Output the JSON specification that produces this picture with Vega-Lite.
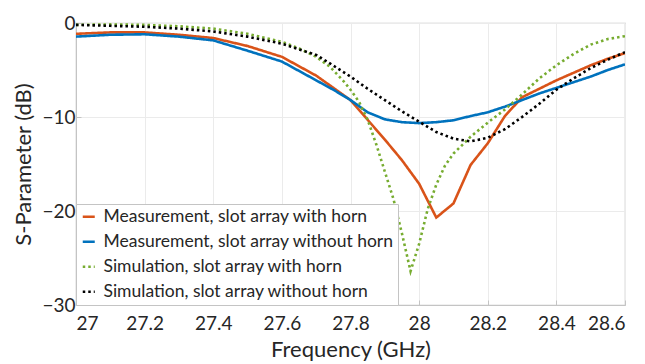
{
  "$schema": "https://vega.github.io/schema/vega-lite/v6.json",
  "width": 549,
  "height": 282,
  "autosize": {"type": "none"},
  "padding": {"left": 76, "top": 23, "right": 20, "bottom": 59},
  "background": "white",
  "config": {
    "font": "Lato",
    "view": {"stroke": "#c4c4c4", "strokeWidth": 1.2},
    "axis": {
      "labelFont": "Lato", "titleFont": "Lato", "labelFontSize": 19, "titleFontSize": 22,
      "titleFontWeight": "normal", "labelColor": "#262626", "titleColor": "#262626",
      "gridColor": "#ebebeb", "domainColor": "#c4c4c4", "tickColor": "#c4c4c4",
      "tickSize": -5, "labelPadding": 10
    },
    "legend": {
      "labelFont": "Lato", "labelFontSize": 17.5, "labelColor": "#262626", "labelLimit": 500
    }
  },
  "data": {"values": [
    {"s":"Measurement, slot array with horn","f":27.0,"v":-1.15},
    {"s":"Measurement, slot array with horn","f":27.1,"v":-1.0},
    {"s":"Measurement, slot array with horn","f":27.2,"v":-1.0},
    {"s":"Measurement, slot array with horn","f":27.3,"v":-1.25},
    {"s":"Measurement, slot array with horn","f":27.4,"v":-1.6},
    {"s":"Measurement, slot array with horn","f":27.5,"v":-2.45},
    {"s":"Measurement, slot array with horn","f":27.6,"v":-3.6},
    {"s":"Measurement, slot array with horn","f":27.7,"v":-5.6},
    {"s":"Measurement, slot array with horn","f":27.75,"v":-6.9},
    {"s":"Measurement, slot array with horn","f":27.8,"v":-8.2},
    {"s":"Measurement, slot array with horn","f":27.85,"v":-10.3},
    {"s":"Measurement, slot array with horn","f":27.9,"v":-12.4},
    {"s":"Measurement, slot array with horn","f":27.95,"v":-14.6},
    {"s":"Measurement, slot array with horn","f":28.0,"v":-17.1},
    {"s":"Measurement, slot array with horn","f":28.05,"v":-20.7},
    {"s":"Measurement, slot array with horn","f":28.1,"v":-19.2},
    {"s":"Measurement, slot array with horn","f":28.15,"v":-15.1},
    {"s":"Measurement, slot array with horn","f":28.2,"v":-12.8},
    {"s":"Measurement, slot array with horn","f":28.25,"v":-9.9},
    {"s":"Measurement, slot array with horn","f":28.3,"v":-7.9},
    {"s":"Measurement, slot array with horn","f":28.35,"v":-7.0},
    {"s":"Measurement, slot array with horn","f":28.4,"v":-6.1},
    {"s":"Measurement, slot array with horn","f":28.45,"v":-5.3},
    {"s":"Measurement, slot array with horn","f":28.5,"v":-4.5},
    {"s":"Measurement, slot array with horn","f":28.55,"v":-3.8},
    {"s":"Measurement, slot array with horn","f":28.6,"v":-3.2},

    {"s":"Measurement, slot array without horn","f":27.0,"v":-1.45},
    {"s":"Measurement, slot array without horn","f":27.1,"v":-1.25},
    {"s":"Measurement, slot array without horn","f":27.2,"v":-1.2},
    {"s":"Measurement, slot array without horn","f":27.3,"v":-1.45},
    {"s":"Measurement, slot array without horn","f":27.4,"v":-1.85},
    {"s":"Measurement, slot array without horn","f":27.5,"v":-2.95},
    {"s":"Measurement, slot array without horn","f":27.6,"v":-4.1},
    {"s":"Measurement, slot array without horn","f":27.7,"v":-6.1},
    {"s":"Measurement, slot array without horn","f":27.75,"v":-7.1},
    {"s":"Measurement, slot array without horn","f":27.8,"v":-8.2},
    {"s":"Measurement, slot array without horn","f":27.85,"v":-9.5},
    {"s":"Measurement, slot array without horn","f":27.9,"v":-10.25},
    {"s":"Measurement, slot array without horn","f":27.95,"v":-10.55},
    {"s":"Measurement, slot array without horn","f":28.0,"v":-10.65},
    {"s":"Measurement, slot array without horn","f":28.05,"v":-10.55},
    {"s":"Measurement, slot array without horn","f":28.1,"v":-10.35},
    {"s":"Measurement, slot array without horn","f":28.15,"v":-9.9},
    {"s":"Measurement, slot array without horn","f":28.2,"v":-9.5},
    {"s":"Measurement, slot array without horn","f":28.25,"v":-8.9},
    {"s":"Measurement, slot array without horn","f":28.3,"v":-8.2},
    {"s":"Measurement, slot array without horn","f":28.35,"v":-7.5},
    {"s":"Measurement, slot array without horn","f":28.4,"v":-6.9},
    {"s":"Measurement, slot array without horn","f":28.45,"v":-6.3},
    {"s":"Measurement, slot array without horn","f":28.5,"v":-5.7},
    {"s":"Measurement, slot array without horn","f":28.55,"v":-5.0},
    {"s":"Measurement, slot array without horn","f":28.6,"v":-4.4},

    {"s":"Simulation, slot array with horn","f":27.0,"v":-0.2},
    {"s":"Simulation, slot array with horn","f":27.1,"v":-0.15},
    {"s":"Simulation, slot array with horn","f":27.2,"v":-0.2},
    {"s":"Simulation, slot array with horn","f":27.3,"v":-0.35},
    {"s":"Simulation, slot array with horn","f":27.4,"v":-0.6},
    {"s":"Simulation, slot array with horn","f":27.5,"v":-1.15},
    {"s":"Simulation, slot array with horn","f":27.6,"v":-2.0},
    {"s":"Simulation, slot array with horn","f":27.65,"v":-2.7},
    {"s":"Simulation, slot array with horn","f":27.7,"v":-3.6},
    {"s":"Simulation, slot array with horn","f":27.74,"v":-4.65},
    {"s":"Simulation, slot array with horn","f":27.78,"v":-6.2},
    {"s":"Simulation, slot array with horn","f":27.8,"v":-7.1},
    {"s":"Simulation, slot array with horn","f":27.825,"v":-8.4},
    {"s":"Simulation, slot array with horn","f":27.85,"v":-10.3},
    {"s":"Simulation, slot array with horn","f":27.875,"v":-12.9},
    {"s":"Simulation, slot array with horn","f":27.9,"v":-15.8},
    {"s":"Simulation, slot array with horn","f":27.925,"v":-18.7},
    {"s":"Simulation, slot array with horn","f":27.95,"v":-22.4},
    {"s":"Simulation, slot array with horn","f":27.975,"v":-26.4},
    {"s":"Simulation, slot array with horn","f":28.0,"v":-23.5},
    {"s":"Simulation, slot array with horn","f":28.025,"v":-19.8},
    {"s":"Simulation, slot array with horn","f":28.05,"v":-17.2},
    {"s":"Simulation, slot array with horn","f":28.075,"v":-15.2},
    {"s":"Simulation, slot array with horn","f":28.1,"v":-13.9},
    {"s":"Simulation, slot array with horn","f":28.15,"v":-12.1},
    {"s":"Simulation, slot array with horn","f":28.2,"v":-10.6},
    {"s":"Simulation, slot array with horn","f":28.25,"v":-9.2},
    {"s":"Simulation, slot array with horn","f":28.3,"v":-7.6},
    {"s":"Simulation, slot array with horn","f":28.35,"v":-5.9},
    {"s":"Simulation, slot array with horn","f":28.4,"v":-4.5},
    {"s":"Simulation, slot array with horn","f":28.45,"v":-3.3},
    {"s":"Simulation, slot array with horn","f":28.5,"v":-2.3},
    {"s":"Simulation, slot array with horn","f":28.55,"v":-1.7},
    {"s":"Simulation, slot array with horn","f":28.6,"v":-1.4},

    {"s":"Simulation, slot array without horn","f":27.0,"v":-0.2},
    {"s":"Simulation, slot array without horn","f":27.1,"v":-0.3},
    {"s":"Simulation, slot array without horn","f":27.2,"v":-0.4},
    {"s":"Simulation, slot array without horn","f":27.3,"v":-0.6},
    {"s":"Simulation, slot array without horn","f":27.4,"v":-0.9},
    {"s":"Simulation, slot array without horn","f":27.5,"v":-1.45},
    {"s":"Simulation, slot array without horn","f":27.6,"v":-2.2},
    {"s":"Simulation, slot array without horn","f":27.7,"v":-3.4},
    {"s":"Simulation, slot array without horn","f":27.74,"v":-4.3},
    {"s":"Simulation, slot array without horn","f":27.8,"v":-5.7},
    {"s":"Simulation, slot array without horn","f":27.85,"v":-7.0},
    {"s":"Simulation, slot array without horn","f":27.9,"v":-8.2},
    {"s":"Simulation, slot array without horn","f":27.95,"v":-9.4},
    {"s":"Simulation, slot array without horn","f":28.0,"v":-10.5},
    {"s":"Simulation, slot array without horn","f":28.05,"v":-11.6},
    {"s":"Simulation, slot array without horn","f":28.1,"v":-12.3},
    {"s":"Simulation, slot array without horn","f":28.15,"v":-12.6},
    {"s":"Simulation, slot array without horn","f":28.2,"v":-12.2},
    {"s":"Simulation, slot array without horn","f":28.25,"v":-11.3},
    {"s":"Simulation, slot array without horn","f":28.3,"v":-10.0},
    {"s":"Simulation, slot array without horn","f":28.35,"v":-8.6},
    {"s":"Simulation, slot array without horn","f":28.4,"v":-7.1},
    {"s":"Simulation, slot array without horn","f":28.45,"v":-5.9},
    {"s":"Simulation, slot array without horn","f":28.5,"v":-4.8},
    {"s":"Simulation, slot array without horn","f":28.55,"v":-3.9},
    {"s":"Simulation, slot array without horn","f":28.6,"v":-3.1}
  ]},
  "mark": {"type": "line", "strokeWidth": 2.6, "clip": true},
  "encoding": {
    "x": {
      "field": "f", "type": "quantitative",
      "scale": {"domain": [27, 28.6], "nice": false, "zero": false},
      "axis": {"values": [27, 27.2, 27.4, 27.6, 27.8, 28, 28.2, 28.4, 28.6], "format": "~g", "title": "Frequency (GHz)", "titlePadding": 6, "labelPadding": 14}
    },
    "y": {
      "field": "v", "type": "quantitative",
      "scale": {"domain": [-30, 0], "nice": false},
      "axis": {"values": [-30, -20, -10, 0], "title": "S-Parameter (dB)", "titlePadding": 6, "labelPadding": 6}
    },
    "color": {
      "field": "s", "type": "nominal",
      "scale": {
        "domain": ["Measurement, slot array with horn", "Measurement, slot array without horn", "Simulation, slot array with horn", "Simulation, slot array without horn"],
        "range": ["#D95319", "#0072BD", "#77AC30", "#000000"]
      },
      "legend": {
        "title": null, "orient": "bottom-left", "offset": 0, "padding": 4,
        "strokeColor": "#c4c4c4", "fillColor": "white",
        "symbolType": "stroke", "symbolSize": 144, "symbolStrokeWidth": 2.6,
        "rowPadding": 6, "labelOffset": 6
      }
    },
    "strokeDash": {
      "field": "s", "type": "nominal",
      "scale": {
        "domain": ["Measurement, slot array with horn", "Measurement, slot array without horn", "Simulation, slot array with horn", "Simulation, slot array without horn"],
        "range": [[1, 0], [1, 0], [2.5, 3], [2.5, 3]]
      }
    }
  }
}
